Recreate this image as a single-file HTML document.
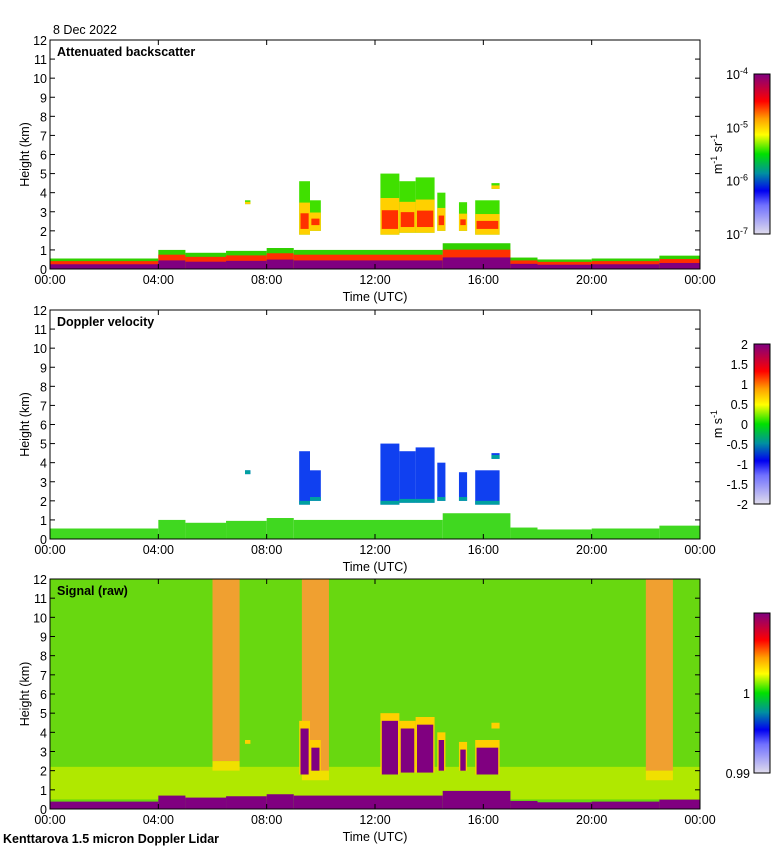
<!DOCTYPE html>
<html><head><meta charset="utf-8"><style>
body{margin:0;background:#fff;font-family:"Liberation Sans",sans-serif}
svg text{font-family:"Liberation Sans",sans-serif;font-size:12.5px;fill:#000}
</style></head><body>
<svg id="s" width="780" height="850" xmlns="http://www.w3.org/2000/svg">
<defs>
<linearGradient id="cb" x1="0" y1="1" x2="0" y2="0">
<stop offset="0" stop-color="#e0dcec"/><stop offset="0.18" stop-color="#7070ff"/><stop offset="0.27" stop-color="#0000f0"/><stop offset="0.38" stop-color="#0090a0"/><stop offset="0.5" stop-color="#00e000"/><stop offset="0.62" stop-color="#ffff00"/><stop offset="0.72" stop-color="#ffa000"/><stop offset="0.83" stop-color="#ff0000"/><stop offset="1" stop-color="#800080"/>
</linearGradient>
</defs>
<text x="53" y="34">8 Dec 2022</text>
<text x="3" y="843" font-weight="bold">Kenttarova 1.5 micron Doppler Lidar</text>
<g id="g"></g>
</svg>
<script>
// ---------- data ----------
const xTickLabels=["00:00","04:00","08:00","12:00","16:00","20:00","00:00"];
const yTickLabels=[0,1,2,3,4,5,6,7,8,9,10,11,12];
const panelTitles=["Attenuated backscatter","Doppler velocity","Signal (raw)"];
// boundary layer: [startHour,endHour,topKm]
const blStart=[0,4,5,6.5,8,9,12,14.5,17,18,20,22.5];
const blEnd  =[4,5,6.5,8,9,12,14.5,17,18,20,22.5,24];
const blTop  =[0.55,1.0,0.85,0.95,1.1,1.0,1.0,1.35,0.6,0.5,0.55,0.7];
// cloud blocks: start, end, base, top
const cloudStart=[7.2,9.2,9.6,12.2,12.9,13.5,14.3,15.1,15.7,16.3];
const cloudEnd  =[7.4,9.6,10.0,12.9,13.5,14.2,14.6,15.4,16.6,16.6];
const cloudBase =[3.4,1.8,2.0,1.8,1.9,1.9,2.0,2.0,1.8,4.2];
const cloudTop  =[3.6,4.6,3.6,5.0,4.6,4.8,4.0,3.5,3.6,4.5];
// signal panel high-background bands
const bandStart=[6.0,9.3,22.0];
const bandEnd  =[7.0,10.3,23.0];
const bandBase =[2.5,2.0,2.0];
// colorbar labels
const cb1=["10^-4","10^-5","10^-6","10^-7"];
const cb2=["2","1.5","1","0.5","0","-0.5","-1","-1.5","-2"];
// ---------- drawing ----------
const NS="http://www.w3.org/2000/svg",G=document.getElementById('g');
const X0=50,X1=700,panelsY=[[40,269],[310,539],[579,809]];
function mk(t,a,p){const e=document.createElementNS(NS,t);for(const k in a)e.setAttribute(k,a[k]);(p||G).appendChild(e);return e;}
function xs(h){return X0+h/24*(X1-X0);}
function ys(p,k){const[t,b]=panelsY[p];return b-k/12*(b-t);}
function rect(p,h0,h1,k0,k1,c,name){const r=mk('rect',{x:xs(h0),y:ys(p,k1),width:xs(h1)-xs(h0),height:ys(p,k0)-ys(p,k1),fill:c});

return r;}
for(let p=0;p<3;p++){
  const[t,b]=panelsY[p];
  if(p==2){
    rect(p,0,24,0,12,'#68d810','signal-background');
    rect(p,0,24,0.5,2.2,'#b0e800','signal-low-background');
    for(let i=0;i<bandStart.length;i++){rect(p,bandStart[i],bandEnd[i],bandBase[i],12,'#f0a030','signal-band');rect(p,bandStart[i],bandEnd[i],bandBase[i]-0.5,bandBase[i],'#f0e000','signal-band-edge');}
  }
  for(let i=0;i<blStart.length;i++){
    if(p==0){rect(p,blStart[i],blEnd[i],0,blTop[i],'#30d000','bl-top');rect(p,blStart[i],blEnd[i],0,blTop[i]*0.75,'#ff3000','bl-mid');rect(p,blStart[i],blEnd[i],0,blTop[i]*0.45,'#800080','bl-base');}
    else if(p==1){rect(p,blStart[i],blEnd[i],0,blTop[i],'#40d820','bl-velocity');}
    else{rect(p,blStart[i],blEnd[i],0,blTop[i]*0.7,'#800080','bl-signal');}
  }
  for(let i=0;i<cloudStart.length;i++){
    const s=cloudStart[i],e=cloudEnd[i],lo=cloudBase[i],hi=cloudTop[i];
    if(p==0){rect(p,s,e,lo,hi,'#40e000','cloud');rect(p,s,e,lo,lo+(hi-lo)*0.6,'#ffd000','cloud-core');rect(p,s+0.05,e-0.05,lo+0.3,lo+(hi-lo)*0.4,'#ff3000','cloud-dense');}
    else if(p==1){rect(p,s,e,lo,hi,'#1040f0','cloud-velocity');rect(p,s,e,lo,lo+0.2,'#00a0a0','cloud-velocity-base');}
    else{rect(p,s,e,lo,hi,'#ffd000','cloud-signal-edge');rect(p,s+0.05,e-0.05,lo,hi-0.4,'#800080','cloud-signal');}
  }
  mk('rect',{x:X0,y:t,width:X1-X0,height:b-t,fill:'none',stroke:'#000','stroke-width':1,});
  for(let i=0;i<yTickLabels.length;i++){const yy=ys(p,yTickLabels[i]);
    mk('line',{x1:X0,x2:X0+5,y1:yy,y2:yy,stroke:'#000'});mk('line',{x1:X1,x2:X1-5,y1:yy,y2:yy,stroke:'#000'});
    const tx=mk('text',{x:X0-3,y:yy+5,'text-anchor':'end'});tx.textContent=yTickLabels[i];
    
    }
  for(let i=0;i<xTickLabels.length;i++){const xx=xs(i*4);
    mk('line',{x1:xx,x2:xx,y1:b,y2:b-5,stroke:'#000'});mk('line',{x1:xx,x2:xx,y1:t,y2:t+5,stroke:'#000'});
    const tx=mk('text',{x:xx,y:b+15,'text-anchor':'middle'});tx.textContent=xTickLabels[i];
    
    }
  const tt=mk('text',{x:57,y:t+16,'font-weight':'bold',});tt.textContent=panelTitles[p];
  const xl=mk('text',{x:375,y:b+32,'text-anchor':'middle',});xl.textContent='Time (UTC)';
  const yl=mk('text',{x:0,y:0,'text-anchor':'middle',transform:`translate(29,${(t+b)/2}) rotate(-90)`,});yl.textContent='Height (km)';
  const ct=t+34,cbH=160;
  mk('rect',{x:754,y:ct,width:16,height:cbH,fill:'url(#cb)',stroke:'#000',});
  if(p==0){cb1.forEach((l,i)=>{const[a,e]=l.split('^');const tx=mk('text',{x:748,y:ct+i*cbH/3+5,'text-anchor':'end','font-size':'12'});tx.innerHTML=a+'<tspan dy="-5" font-size="9">'+e+'</tspan>';
    });
    const u=mk('text',{x:0,y:0,'text-anchor':'middle',transform:`translate(722,${ct+cbH/2}) rotate(-90)`,});u.innerHTML='m<tspan dy="-5" font-size="9">-1</tspan><tspan dy="5"> sr</tspan><tspan dy="-5" font-size="9">-1</tspan>';}
  if(p==1){cb2.forEach((l,i)=>{const tx=mk('text',{x:748,y:ct+i*cbH/8+5,'text-anchor':'end'});tx.textContent=l;
    });
    const u=mk('text',{x:0,y:0,'text-anchor':'middle',transform:`translate(722,${ct+cbH/2}) rotate(-90)`,});u.innerHTML='m s<tspan dy="-5" font-size="9">-1</tspan>';}
  if(p==2){[['1',cbH*0.5],['0.99',cbH]].forEach(([l,o])=>{const tx=mk('text',{x:750,y:ct+o+5,'text-anchor':'end'});tx.textContent=l;
    });}
}
</script>
</body></html>
